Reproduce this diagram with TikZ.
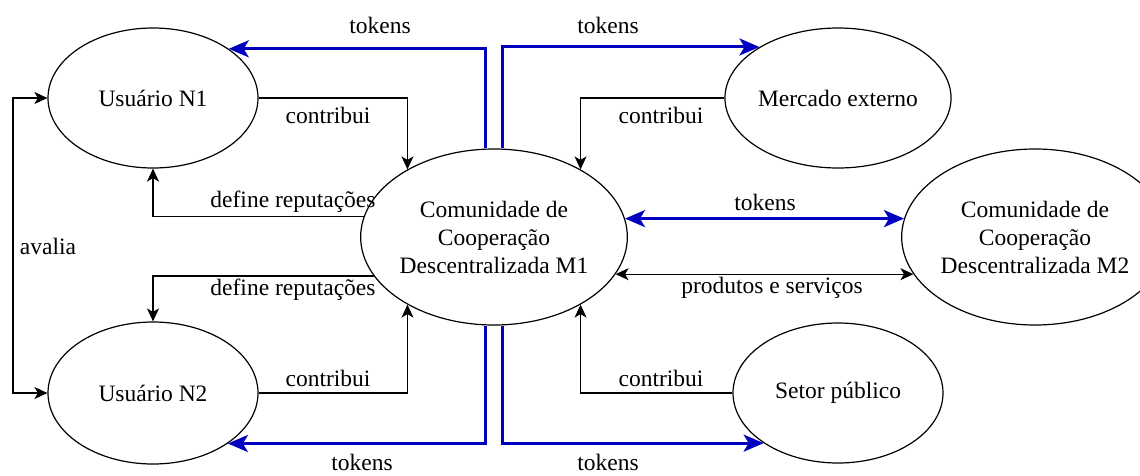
\documentclass[tikz,border=0pt]{standalone}
\usepackage{fontspec}
\setmainfont{Liberation Serif}
\usetikzlibrary{shapes.geometric,arrows.meta}
\definecolor{tokblue}{RGB}{0,0,190}

\begin{document}
\begin{tikzpicture}[x=1pt,y=-1pt,
  every node/.style={font=\fontsize{23.5}{28}\selectfont},
  blk/.tip={Stealth[length=13pt,width=12pt,inset=3.5pt]},
  bluetip/.tip={Stealth[length=20pt,width=17pt,inset=5pt]},
  ent/.style={ellipse,draw,line width=1.2pt,inner sep=0pt,align=center},
  flow/.style={draw,line width=1.2pt,-blk},
  twoway/.style={draw,line width=1.2pt,blk-blk},
  tok/.style={draw=tokblue,line width=3pt,-bluetip},
  tokboth/.style={draw=tokblue,line width=3pt,bluetip-bluetip},
  lbl/.style={inner sep=0pt}
]
\useasboundingbox (0,0) rectangle (1140,475);

% entities
\node[ent,minimum width=210pt,minimum height=140pt] (n1) at (153,98) {Usuário N1};
\node[ent,minimum width=210pt,minimum height=142pt] (n2) at (153,393) {Usuário N2};
\node[ent,minimum width=228pt,minimum height=176pt] (m1) at (494,237)
  {Comunidade de\\Cooperação\\Descentralizada M1};
\node[ent,minimum width=210pt,minimum height=140pt] (me) at (838,98) {Mercado externo};
\node[ent,minimum width=210pt,minimum height=140pt] (sp) at (838,393) {Setor público};
\node[ent,minimum width=224pt,minimum height=176pt] (m2) at (1035,237)
  {Comunidade de\\Cooperação\\Descentralizada M2};

% columns of the token lines and of the evaluation loop
\coordinate (cl) at (485.5,0);
\coordinate (cr) at (502.5,0);
\coordinate (ca) at (13,0);

% token flows (blue)
\draw[tok] (m1.north -| cl) |- (n1.33);
\draw[tok] (m1.north -| cr) |- (me.147);
\draw[tok] (m1.south -| cl) |- (n2.-34);
\draw[tok] (m1.south -| cr) |- (sp.214);
\draw[tokboth] (m1.8) -- (m1.8 -| m2.172);

% contributions and reputations (black)
\draw[flow] (n1.east) -| (m1.142);
\draw[flow] (me.west) -| (m1.38);
\draw[flow] (n2.east) -| (m1.218);
\draw[flow] (sp.west) -| (m1.322);
\draw[flow] (m1.171) -| (n1.south);
\draw[flow] (m1.198.5) -| (n2.north);
\draw[twoway] (m1.-17.3) -- (m1.-17.3 -| m2.197.6);
\draw[twoway] (n1.west) -- (n1.west -| ca) |- (n2.west);

% labels
\node[lbl] (t1) at (380,25) {tokens};
\node[lbl] (t2) at (608,25) {tokens};
\node[lbl] (t3) at (362,462) {tokens};
\node[lbl] (t4) at (608,462) {tokens};
\node[lbl] (t5) at (765,202) {tokens};
\node[lbl] (c1) at (328,115) {contribui};
\node[lbl] (c2) at (661,115) {contribui};
\node[lbl] (c3) at (328,378) {contribui};
\node[lbl] (c4) at (661,378) {contribui};
\node[lbl] (r1) at (293,202) {define reputações};
\node[lbl] (r2) at (293,290) {define reputações};
\node[lbl] (ps) at (772,288) {produtos e serviços};
\node[lbl] (av) at (48,246) {avalia};
\end{tikzpicture}
\end{document}
